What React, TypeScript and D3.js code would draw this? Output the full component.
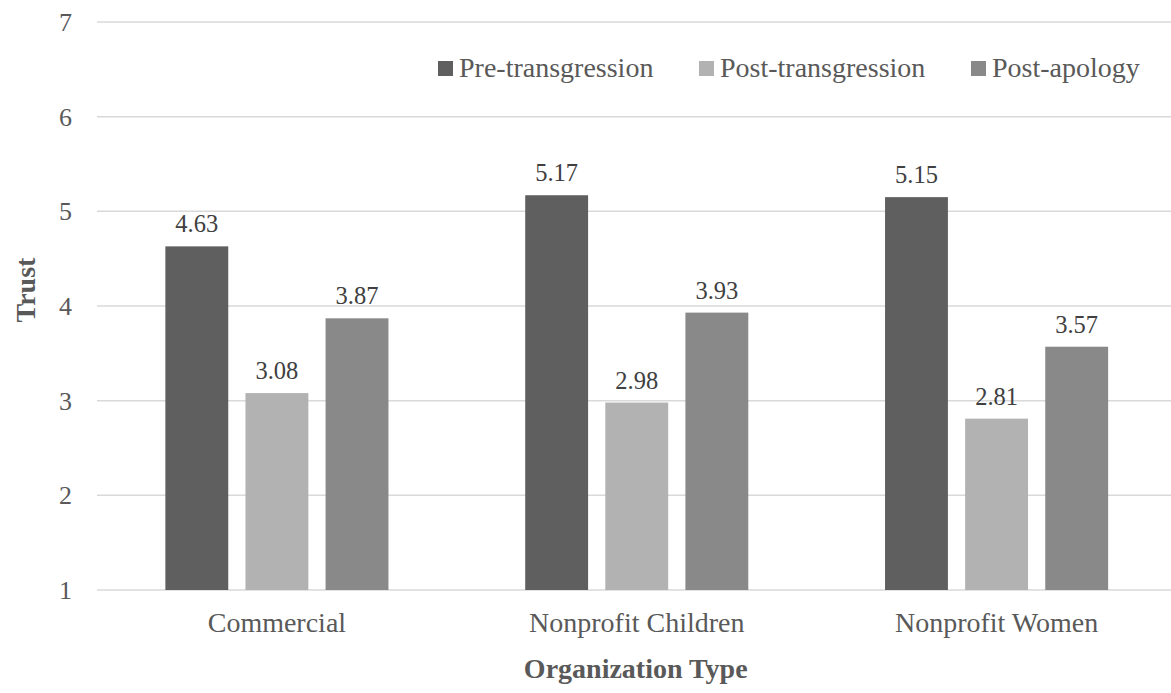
import React from "react";
import * as d3 from "d3";

// Trust ratings by organization type and phase
const categories = ["Commercial", "Nonprofit Children", "Nonprofit Women"];
const seriesNames = ["Pre-transgression", "Post-transgression", "Post-apology"];
const preTransgression = [4.63, 5.17, 5.15];
const postTransgression = [3.08, 2.98, 2.81];
const postApology = [3.87, 3.93, 3.57];
const yTicks = [1, 2, 3, 4, 5, 6, 7];
const seriesColors = ["#5f5f5f", "#b2b2b2", "#898989"];

const W = 1171;
const H = 693;
const FONT = "'Liberation Serif', 'Times New Roman', serif";
const TEXT = "#595959";
const LABEL = "#404040";
const GRID = "#d9d9d9";

export default function App() {
  const seriesValues = [preTransgression, postTransgression, postApology];

  const y = d3.scaleLinear().domain([1, 7]).range([590, 22]);
  const x0 = d3
    .scaleBand<string>()
    .domain(categories)
    .range([97, 1176.5])
    .paddingInner(0.38)
    .paddingOuter(0.19);
  const x1 = d3
    .scaleBand<string>()
    .domain(seriesNames)
    .range([0, x0.bandwidth()])
    .paddingInner(0.215);

  const legendX = [438, 699, 971];

  return (
    <svg
      width={W}
      height={H}
      style={{ position: "absolute", left: 0, top: 0, background: "#fff" }}
      fontFamily={FONT}
    >
      <rect x={0} y={0} width={W} height={H} fill="#fff" />

      {/* horizontal gridlines */}
      {yTicks.map((t) => (
        <line
          key={`g${t}`}
          x1={97}
          x2={W}
          y1={y(t)}
          y2={y(t)}
          stroke={GRID}
          strokeWidth={1.5}
        />
      ))}

      {/* y tick labels */}
      {yTicks.map((t) => (
        <text
          key={`t${t}`}
          x={72}
          y={y(t) + 9}
          textAnchor="end"
          fontSize={26}
          fill={TEXT}
        >
          {t}
        </text>
      ))}

      {/* bars and value labels */}
      {categories.map((c, ci) => (
        <g key={c} transform={`translate(${x0(c)},0)`}>
          {seriesNames.map((s, si) => {
            const v = seriesValues[si][ci];
            const bx = x1(s) as number;
            return (
              <g key={s}>
                <rect
                  x={bx}
                  y={y(v)}
                  width={x1.bandwidth()}
                  height={y(1) - y(v)}
                  fill={seriesColors[si]}
                />
                <text
                  x={bx + x1.bandwidth() / 2}
                  y={y(v) - 14}
                  textAnchor="middle"
                  fontSize={24.5}
                  fill={LABEL}
                >
                  {v.toFixed(2)}
                </text>
              </g>
            );
          })}
        </g>
      ))}

      {/* category labels */}
      {categories.map((c) => (
        <text
          key={`c${c}`}
          x={(x0(c) as number) + x0.bandwidth() / 2}
          y={632}
          textAnchor="middle"
          fontSize={28}
          fill={TEXT}
        >
          {c}
        </text>
      ))}

      {/* axis titles */}
      <text
        x={(x0.range()[0] + x0.range()[1]) / 2 - 1}
        y={678}
        textAnchor="middle"
        fontSize={28}
        fontWeight="bold"
        fill={TEXT}
      >
        Organization Type
      </text>
      <text
        transform="translate(35,290) rotate(-90)"
        textAnchor="middle"
        fontSize={28}
        fontWeight="bold"
        fill={TEXT}
      >
        Trust
      </text>

      {/* legend */}
      {seriesNames.map((s, i) => (
        <g key={`l${s}`}>
          <rect x={legendX[i]} y={61} width={15} height={15} fill={seriesColors[i]} />
          <text x={legendX[i] + 21} y={77} fontSize={28} fill={TEXT}>
            {s}
          </text>
        </g>
      ))}
    </svg>
  );
}
